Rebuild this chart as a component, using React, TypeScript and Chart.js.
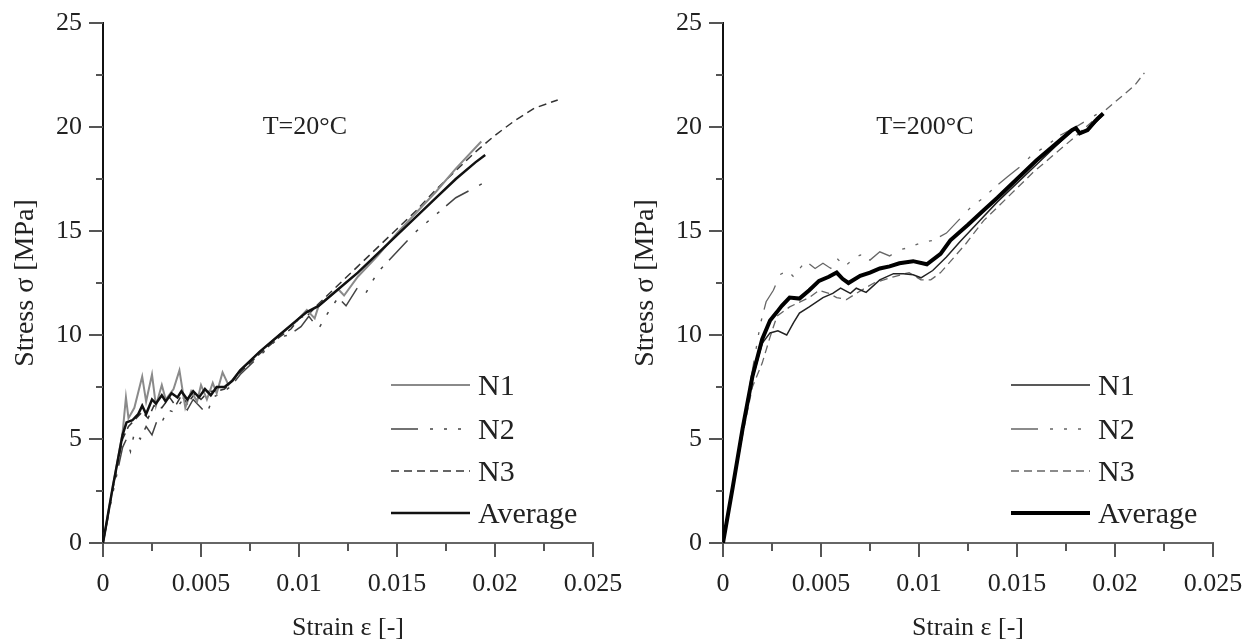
import React, { useEffect, useRef } from 'react';
import { Chart, registerables } from 'chart.js';
Chart.register(...registerables);

const xMajorTicks = [0, 0.005, 0.01, 0.015, 0.02, 0.025];
const xTickLabels = ['0', '0.005', '0.01', '0.015', '0.02', '0.025'];
const xMinorTicks = [0.0025, 0.0075, 0.0125, 0.0175, 0.0225];
const yMajorTicks = [0, 5, 10, 15, 20, 25];
const yTickLabels = ['0', '5', '10', '15', '20', '25'];
const yMinorTicks = [2.5, 7.5, 12.5, 17.5, 22.5];
const seriesLabels = ['N1', 'N2', 'N3', 'Average'];
const xAxisTitle = 'Strain ε [-]';
const yAxisTitle = 'Stress σ [MPa]';
const panelTitles = ['T=20°C', 'T=200°C'];
const panelTitleAt = [0.0103, 20];

// T = 20 °C  (strain, stress)
const t20_N1 = [[0,0],[0.0005,2.7],[0.001,5.3],[0.00117,7.0],[0.0013,6.0],[0.0016,6.5],[0.002,8.0],[0.0022,6.8],[0.0025,8.1],[0.0027,6.6],[0.003,7.6],[0.0032,6.9],[0.0036,7.4],[0.0039,8.3],[0.0042,6.5],[0.0045,7.3],[0.0048,6.8],[0.005,7.6],[0.0053,6.9],[0.0056,7.7],[0.0058,7.2],[0.0061,8.2],[0.0064,7.6],[0.007,8.3],[0.008,9.2],[0.009,10.0],[0.0098,10.6],[0.0104,11.2],[0.0108,10.8],[0.011,11.4],[0.012,12.2],[0.0123,11.9],[0.013,12.8],[0.014,13.8],[0.015,14.9],[0.016,15.9],[0.017,16.9],[0.018,18.0],[0.019,19.0],[0.0193,19.3]];
const t20_N2 = [[0,0],[0.0005,2.4],[0.001,4.6],[0.0012,5.0],[0.0014,4.4],[0.0016,5.3],[0.0019,5.0],[0.0022,5.6],[0.0025,5.2],[0.0028,6.0],[0.003,5.8],[0.0033,6.4],[0.0036,6.3],[0.004,6.8],[0.0043,6.4],[0.0046,6.9],[0.005,6.5],[0.0053,6.2],[0.0056,7.0],[0.006,7.2],[0.0065,7.5],[0.007,8.1],[0.008,9.0],[0.009,9.9],[0.0095,10.0],[0.0101,10.4],[0.0105,10.9],[0.011,10.3],[0.0115,11.1],[0.012,11.8],[0.0124,11.4],[0.013,12.3],[0.0134,12.0],[0.014,13.0],[0.015,14.0],[0.016,15.0],[0.017,15.8],[0.018,16.6],[0.019,17.1],[0.0194,17.3]];
const t20_N3 = [[0,0],[0.0005,2.6],[0.001,5.0],[0.0013,5.6],[0.0016,5.9],[0.002,6.3],[0.0023,6.0],[0.0026,6.6],[0.003,6.5],[0.0034,7.0],[0.0037,6.6],[0.004,7.1],[0.0043,6.7],[0.0047,7.2],[0.005,6.9],[0.0054,7.3],[0.0058,7.3],[0.0062,7.4],[0.0066,7.8],[0.007,8.2],[0.008,9.1],[0.009,9.9],[0.0096,10.3],[0.01,10.8],[0.0105,11.0],[0.011,11.5],[0.012,12.4],[0.013,13.3],[0.014,14.2],[0.015,15.1],[0.016,16.0],[0.017,17.0],[0.018,17.9],[0.019,18.8],[0.02,19.6],[0.021,20.3],[0.022,20.9],[0.0232,21.3]];
const t20_Avg = [[0,0],[0.0005,2.7],[0.001,5.2],[0.0012,5.8],[0.0015,5.9],[0.0018,6.2],[0.002,6.6],[0.0022,6.2],[0.0025,6.9],[0.0027,6.7],[0.003,7.1],[0.0032,6.8],[0.0035,7.2],[0.0038,7.0],[0.004,7.3],[0.0043,6.9],[0.0046,7.3],[0.0049,7.0],[0.0052,7.4],[0.0055,7.1],[0.0058,7.5],[0.0062,7.5],[0.0066,7.8],[0.007,8.3],[0.008,9.2],[0.009,10.0],[0.01,10.8],[0.0104,11.1],[0.011,11.4],[0.012,12.2],[0.013,13.0],[0.014,13.9],[0.015,14.8],[0.016,15.7],[0.017,16.6],[0.018,17.5],[0.019,18.3],[0.0195,18.65]];

// T = 200 °C  (strain, stress)
const t200_N1 = [[0,0],[0.0005,2.7],[0.001,5.4],[0.0015,7.9],[0.002,9.6],[0.0024,10.1],[0.0028,10.2],[0.00325,10.0],[0.0036,10.6],[0.0039,11.05],[0.0044,11.35],[0.0051,11.8],[0.0056,12.0],[0.006,12.25],[0.0065,12.0],[0.0068,12.25],[0.0073,12.05],[0.008,12.65],[0.0087,12.95],[0.0092,12.95],[0.0097,12.9],[0.0101,12.75],[0.0107,13.1],[0.0114,13.75],[0.0121,14.5],[0.013,15.4],[0.014,16.4],[0.015,17.3],[0.016,18.2],[0.017,19.1],[0.0178,19.8],[0.018,19.9],[0.0182,19.65],[0.0187,19.9],[0.0194,20.6]];
const t200_N2 = [[0,0],[0.0005,2.8],[0.001,5.6],[0.0015,8.3],[0.0019,10.5],[0.0022,11.6],[0.00257,12.15],[0.0029,12.9],[0.0033,13.1],[0.0036,12.8],[0.004,13.3],[0.0043,13.5],[0.0047,13.2],[0.0051,13.45],[0.0055,13.2],[0.0058,13.7],[0.0062,13.3],[0.0066,13.6],[0.007,13.85],[0.0075,13.6],[0.008,14.0],[0.0085,13.8],[0.009,14.1],[0.0095,14.2],[0.01,14.4],[0.0107,14.55],[0.0114,14.9],[0.012,15.5],[0.0127,16.2],[0.0133,16.6],[0.0138,17.05],[0.0145,17.6],[0.0153,18.2],[0.0157,18.6],[0.0165,19.1],[0.0172,19.6],[0.018,20.0],[0.0187,20.4],[0.0194,20.8]];
const t200_N3 = [[0,0],[0.0005,2.6],[0.001,5.2],[0.0015,7.5],[0.002,8.65],[0.0024,9.9],[0.00275,10.9],[0.0034,11.35],[0.0044,11.8],[0.0049,12.15],[0.0054,12.0],[0.0058,11.8],[0.0063,11.7],[0.0068,12.0],[0.0077,12.5],[0.0087,12.8],[0.0095,13.0],[0.0101,12.65],[0.0106,12.65],[0.0111,13.0],[0.0118,13.75],[0.0124,14.4],[0.0133,15.5],[0.0145,16.6],[0.0158,17.8],[0.0168,18.6],[0.0178,19.4],[0.019,20.4],[0.02,21.2],[0.021,22.0],[0.0215,22.6]];
const t200_Avg = [[0,0],[0.0005,2.7],[0.001,5.5],[0.0015,8.0],[0.002,9.8],[0.0024,10.7],[0.00275,11.1],[0.003,11.4],[0.0034,11.8],[0.0039,11.75],[0.0044,12.15],[0.0049,12.6],[0.0054,12.8],[0.0058,13.0],[0.0061,12.7],[0.0064,12.5],[0.007,12.85],[0.0075,13.0],[0.008,13.2],[0.0085,13.3],[0.009,13.45],[0.0097,13.55],[0.0104,13.4],[0.0111,13.9],[0.0116,14.55],[0.0125,15.3],[0.0133,16.0],[0.014,16.6],[0.015,17.5],[0.016,18.4],[0.017,19.2],[0.0178,19.85],[0.018,19.95],[0.0182,19.7],[0.0186,19.85],[0.019,20.3],[0.0194,20.65]];

const FONT = "'Liberation Serif', 'Times New Roman', serif";
const TEXT = '#222';
const DASH_DOT_DOT = [27, 12, 3, 11, 3, 11, 3, 9];
const DASHED = [8, 5];
const legendRowOffsets = [158, 114, 72, 30];

type Style = { color: string; width: number; dash: number[] };
const styles20: Style[] = [
  { color: '#8a8a8a', width: 2, dash: [] },
  { color: '#444', width: 1.5, dash: DASH_DOT_DOT },
  { color: '#333', width: 1.5, dash: DASHED },
  { color: '#111', width: 2.5, dash: [] },
];
const styles200: Style[] = [
  { color: '#222', width: 1.5, dash: [] },
  { color: '#666', width: 1.3, dash: DASH_DOT_DOT },
  { color: '#666', width: 1.3, dash: DASHED },
  { color: '#000', width: 4, dash: [] },
];

function toXY(arr: number[][]) {
  return arr.map(([x, y]) => ({ x, y }));
}

function makeDecor(title: string) {
  return {
    id: 'decor',
    afterDatasetsDraw(chart: any) {
      const { ctx, chartArea } = chart;
      const xs = chart.scales.x;
      const ys = chart.scales.y;
      ctx.save();
      ctx.strokeStyle = '#555';
      ctx.lineWidth = 2;
      const xTick = (v: number, len: number) => {
        const px = Math.round(xs.getPixelForValue(v));
        ctx.beginPath();
        ctx.moveTo(px, chartArea.bottom);
        ctx.lineTo(px, chartArea.bottom + len);
        ctx.stroke();
      };
      const yTick = (v: number, len: number) => {
        const py = Math.round(ys.getPixelForValue(v));
        ctx.beginPath();
        ctx.moveTo(chartArea.left, py);
        ctx.lineTo(chartArea.left - len, py);
        ctx.stroke();
      };
      xMajorTicks.forEach((v) => xTick(v, 14));
      xMinorTicks.forEach((v) => xTick(v, 8));
      yMajorTicks.forEach((v) => yTick(v, 14));
      yMinorTicks.forEach((v) => yTick(v, 7));

      ctx.fillStyle = TEXT;
      ctx.font = `26px ${FONT}`;
      ctx.textAlign = 'center';
      ctx.textBaseline = 'middle';
      ctx.fillText(title, xs.getPixelForValue(panelTitleAt[0]), ys.getPixelForValue(panelTitleAt[1]));

      chart.data.datasets.forEach((ds: any, i: number) => {
        const rowY = chartArea.bottom - legendRowOffsets[i];
        ctx.setLineDash(ds.borderDash || []);
        ctx.strokeStyle = ds.borderColor;
        ctx.lineWidth = ds.borderWidth;
        ctx.beginPath();
        ctx.moveTo(chartArea.right - 202, rowY);
        ctx.lineTo(chartArea.right - 123, rowY);
        ctx.stroke();
        ctx.setLineDash([]);
        ctx.fillStyle = TEXT;
        ctx.font = `30px ${FONT}`;
        ctx.textAlign = 'left';
        ctx.textBaseline = 'alphabetic';
        ctx.fillText(ds.label, chartArea.right - 115, rowY + 0.33 * 30);
      });
      ctx.restore();
    },
  };
}

function Panel({ left, title, series, styles }: { left: number; title: string; series: number[][][]; styles: Style[] }) {
  const ref = useRef<HTMLCanvasElement | null>(null);
  useEffect(() => {
    if (!ref.current) return;
    const datasets = series.map((s, i) => ({
      label: seriesLabels[i],
      data: toXY(s),
      borderColor: styles[i].color,
      borderWidth: styles[i].width,
      borderDash: styles[i].dash,
      pointRadius: 0,
      fill: false,
      tension: 0,
      order: i === 3 ? 0 : 1,
    }));
    const chart = new Chart(ref.current, {
      type: 'line',
      data: { datasets },
      plugins: [makeDecor(title)],
      options: {
        animation: false,
        responsive: false,
        maintainAspectRatio: false,
        devicePixelRatio: 1,
        layout: { padding: { left: 0, right: 33, top: 23, bottom: 0 } },
        plugins: { legend: { display: false }, tooltip: { enabled: false } },
        scales: {
          x: {
            type: 'linear',
            min: 0,
            max: 0.025,
            afterBuildTicks: (s: any) => { s.ticks = xMajorTicks.map((v) => ({ value: v })); },
            afterFit: (s: any) => { s.height = 98; s.paddingLeft = 0; s.paddingRight = 0; },
            grid: { display: false, drawTicks: false },
            border: { display: true, color: '#666', width: 2 },
            ticks: {
              padding: 26,
              autoSkip: false,
              maxRotation: 0,
              color: TEXT,
              font: { family: FONT, size: 26 },
              callback: (_v: any, i: number) => xTickLabels[i],
            },
            title: { display: true, text: xAxisTitle, color: TEXT, font: { family: FONT, size: 26, lineHeight: 1.0 }, padding: { top: 0, bottom: 0 } },
          },
          y: {
            type: 'linear',
            min: 0,
            max: 25,
            afterBuildTicks: (s: any) => { s.ticks = yMajorTicks.map((v) => ({ value: v })); },
            afterFit: (s: any) => { s.width = 103; s.paddingTop = 0; s.paddingBottom = 0; },
            grid: { display: false, drawTicks: false },
            border: { display: true, color: '#111', width: 2 },
            ticks: {
              padding: 21,
              color: TEXT,
              font: { family: FONT, size: 26 },
              callback: (_v: any, i: number) => yTickLabels[i],
            },
            title: { display: true, text: yAxisTitle, color: TEXT, font: { family: FONT, size: 28 }, padding: { top: 9, bottom: 0 } },
          },
        },
      } as any,
    });
    return () => chart.destroy();
  }, []);
  return (
    <canvas
      ref={ref}
      width={626}
      height={641}
      style={{ position: 'absolute', left, top: 0, width: 626, height: 641 }}
    />
  );
}

export default function App() {
  return (
    <div style={{ position: 'fixed', left: 0, top: 0, width: 1252, height: 641, background: '#fff', overflow: 'hidden' }}>
      <Panel left={0} title={panelTitles[0]} series={[t20_N1, t20_N2, t20_N3, t20_Avg]} styles={styles20} />
      <Panel left={620} title={panelTitles[1]} series={[t200_N1, t200_N2, t200_N3, t200_Avg]} styles={styles200} />
    </div>
  );
}
